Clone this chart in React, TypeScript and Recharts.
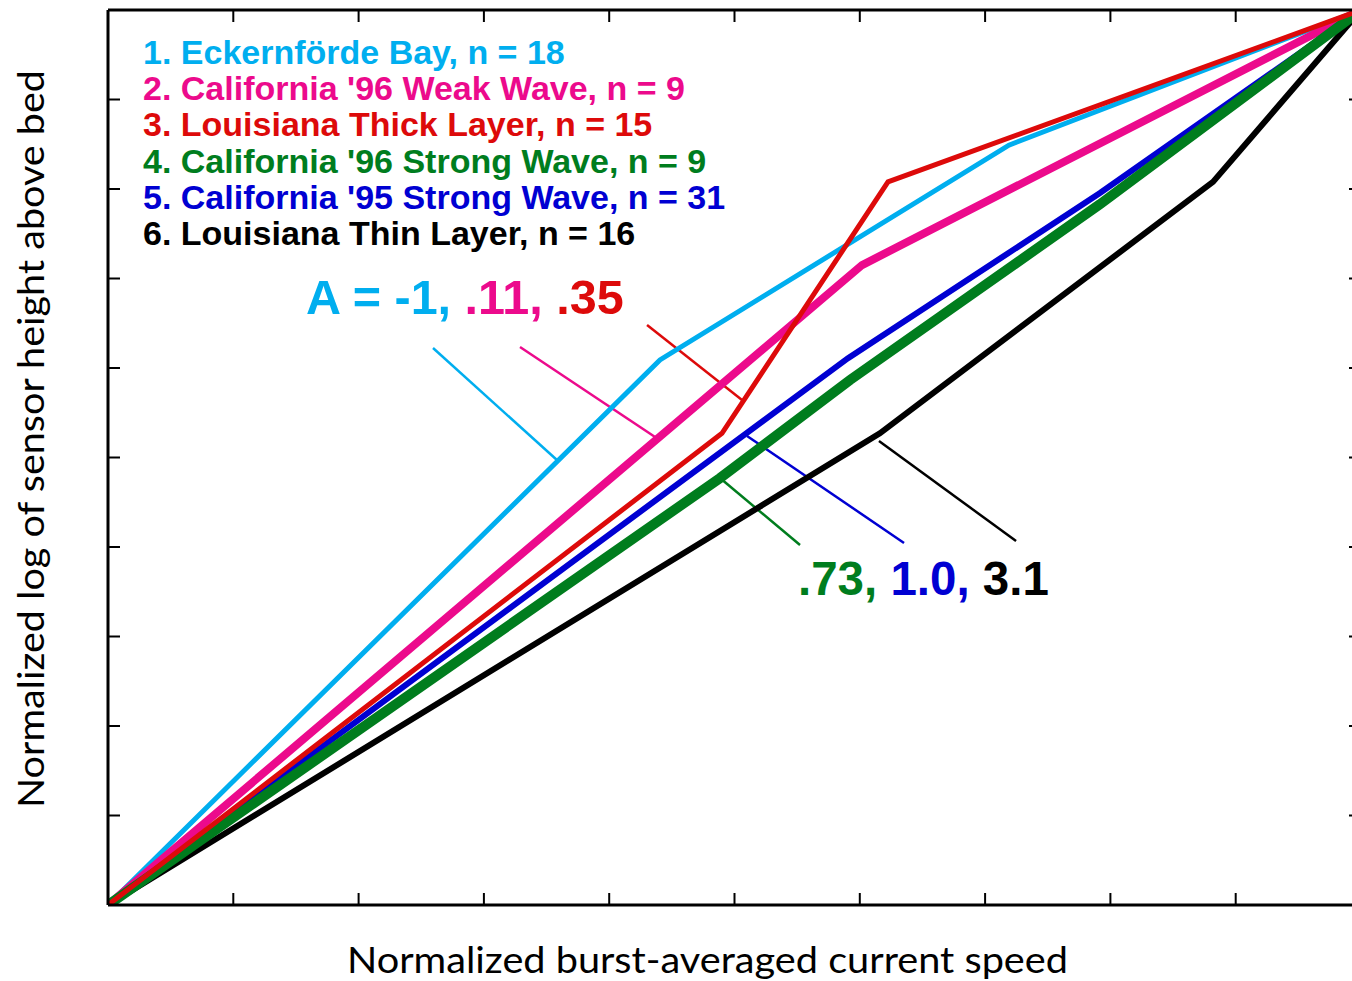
import React from 'react';
import { LineChart, Line, XAxis, YAxis, ReferenceLine } from 'recharts';

// ---- data (normalized speed x, normalized log height y) ----
const eckernfordePts = [
  { x: 0, y: 0 },
  { x: 0.4405, y: 0.609 },
  { x: 0.719, y: 0.849 },
  { x: 1, y: 1 },
];
const cal96WeakPts = [
  { x: 0, y: 0 },
  { x: 0.6018, y: 0.715 },
  { x: 1, y: 1 },
];
const louisThickPts = [
  { x: 0, y: 0 },
  { x: 0.49, y: 0.527 },
  { x: 0.6225, y: 0.808 },
  { x: 1, y: 1 },
];
const cal96StrongPts = [
  { x: 0, y: 0 },
  { x: 0.4884, y: 0.477 },
  { x: 0.5922, y: 0.5866 },
  { x: 0.7917, y: 0.783 },
  { x: 1, y: 1 },
];
const cal95StrongPts = [
  { x: 0, y: 0 },
  { x: 0.5906, y: 0.611 },
  { x: 0.7917, y: 0.7955 },
  { x: 1, y: 1 },
];
const louisThinPts = [
  { x: 0, y: 0 },
  { x: 0.616, y: 0.527 },
  { x: 0.8819, y: 0.808 },
  { x: 1, y: 1 },
];

const xTicks = [0.1, 0.2, 0.3, 0.4, 0.5, 0.6, 0.7, 0.8, 0.9];
const yTicks = [0.1, 0.2, 0.3, 0.4, 0.5, 0.6, 0.7, 0.8, 0.9];

const legendLabels = [
  '1. Eckernförde Bay, n = 18',
  "2. California '96 Weak Wave, n = 9",
  '3. Louisiana Thick Layer, n = 15',
  "4. California '96 Strong Wave, n = 9",
  "5. California '95 Strong Wave, n = 31",
  '6. Louisiana Thin Layer, n = 16',
];

const CYAN = '#00AEEF';
const PINK = '#EC0A8C';
const RED = '#DD0A0A';
const GREEN = '#007D1E';
const BLUE = '#0000D2';
const BLACK = '#000000';

const legendColors = [CYAN, PINK, RED, GREEN, BLUE, BLACK];

const aValuesTop = ['-1,', ' .11,', ' .35'];
const aColorsTop = [CYAN, PINK, RED];
const aValuesBottom = ['.73,', ' 1.0,', ' 3.1'];
const aColorsBottom = [GREEN, BLUE, BLACK];

// leader lines (data coordinates) from A labels to curves
const leaderCyan = [{ x: 0.2594, y: 0.6223 }, { x: 0.3583, y: 0.4972 }];
const leaderPink = [{ x: 0.3288, y: 0.6235 }, { x: 0.4366, y: 0.5229 }];
const leaderRed = [{ x: 0.4302, y: 0.648 }, { x: 0.506, y: 0.5642 }];
const leaderBlue = [{ x: 0.51, y: 0.524 }, { x: 0.6353, y: 0.4045 }];
const leaderGreen = [{ x: 0.4884, y: 0.4771 }, { x: 0.5523, y: 0.4022 }];
const leaderBlack = [{ x: 0.6153, y: 0.5184 }, { x: 0.7247, y: 0.4067 }];

const series = [
  { pts: louisThinPts, color: BLACK, width: 6 },
  { pts: eckernfordePts, color: CYAN, width: 5 },
  { pts: cal96WeakPts, color: PINK, width: 8 },
  { pts: cal95StrongPts, color: BLUE, width: 6 },
  { pts: cal96StrongPts, color: GREEN, width: 10 },
  { pts: louisThickPts, color: RED, width: 5 },
];

const leaders = [
  { seg: leaderCyan, color: CYAN },
  { seg: leaderPink, color: PINK },
  { seg: leaderRed, color: RED },
  { seg: leaderBlue, color: BLUE },
  { seg: leaderGreen, color: GREEN },
  { seg: leaderBlack, color: BLACK },
];

const BOLD = "'Liberation Sans', Arial, Helvetica, sans-serif";
const TITLE = "Lato, 'Open Sans', sans-serif";

const NoLabel = () => <g />;

export default function App() {
  const axisLine = { stroke: '#000', strokeWidth: 3 };
  const tickLine = { stroke: '#000', strokeWidth: 2 };
  const common = {
    type: 'number' as const,
    domain: [0, 1] as [number, number],
    allowDataOverflow: true,
    interval: 0 as const,
    tick: <NoLabel />,
    tickSize: -12,
    tickMargin: 0,
    stroke: '#000',
    axisLine,
    tickLine,
  };
  return (
    <div
      style={{
        position: 'absolute',
        left: 0,
        top: 0,
        width: 1352,
        height: 981,
        overflow: 'hidden',
        background: '#fff',
      }}
    >
      <LineChart
        width={1370}
        height={981}
        margin={{ top: 9, right: 8, bottom: 75, left: 107 }}
      >
        <XAxis {...common} xAxisId="b" orientation="bottom" dataKey="x" ticks={xTicks} height={1} />
        <XAxis {...common} xAxisId="t" orientation="top" dataKey="x" ticks={xTicks} height={1} />
        <YAxis {...common} yAxisId="l" orientation="left" ticks={yTicks} width={1} />
        <YAxis {...common} yAxisId="r" orientation="right" ticks={yTicks} width={1} />
        {leaders.map((l, i) => (
          <ReferenceLine
            key={'ld' + i}
            xAxisId="b"
            yAxisId="l"
            segment={l.seg}
            stroke={l.color}
            strokeWidth={2.5}
            ifOverflow="visible"
          />
        ))}
        {series.map((s, i) => (
          <Line
            key={'s' + i}
            xAxisId="b"
            yAxisId="l"
            data={s.pts}
            dataKey="y"
            type="linear"
            stroke={s.color}
            strokeWidth={s.width}
            dot={false}
            activeDot={false}
            isAnimationActive={false}
          />
        ))}
      </LineChart>
      <svg
        width={1352}
        height={981}
        style={{ position: 'absolute', left: 0, top: 0, pointerEvents: 'none' }}
      >
        {legendLabels.map((t, i) => (
          <text
            key={'lg' + i}
            x={143}
            y={64 + i * 36.2}
            fill={legendColors[i]}
            fontFamily={BOLD}
            fontWeight="bold"
            fontSize={34}
          >
            {t}
          </text>
        ))}
        <text x={306} y={314} fontFamily={BOLD} fontWeight="bold" fontSize={48.5}>
          <tspan fill={CYAN}>{'A = '}</tspan>
          {aValuesTop.map((v, i) => (
            <tspan key={'at' + i} fill={aColorsTop[i]}>
              {v}
            </tspan>
          ))}
        </text>
        <text x={798} y={595} fontFamily={BOLD} fontWeight="bold" fontSize={47.5}>
          {aValuesBottom.map((v, i) => (
            <tspan key={'ab' + i} fill={aColorsBottom[i]}>
              {v}
            </tspan>
          ))}
        </text>
        <text
          x={347}
          y={973}
          fontFamily={TITLE}
          fontSize={37}
          fill="#000"
          textLength={721}
          lengthAdjust="spacingAndGlyphs"
        >
          Normalized burst-averaged current speed
        </text>
        <text
          x={0}
          y={0}
          transform="translate(44 808) rotate(-90)"
          fontFamily={TITLE}
          fontSize={37}
          fill="#000"
          textLength={738}
          lengthAdjust="spacingAndGlyphs"
        >
          Normalized log of sensor height above bed
        </text>
      </svg>
    </div>
  );
}
